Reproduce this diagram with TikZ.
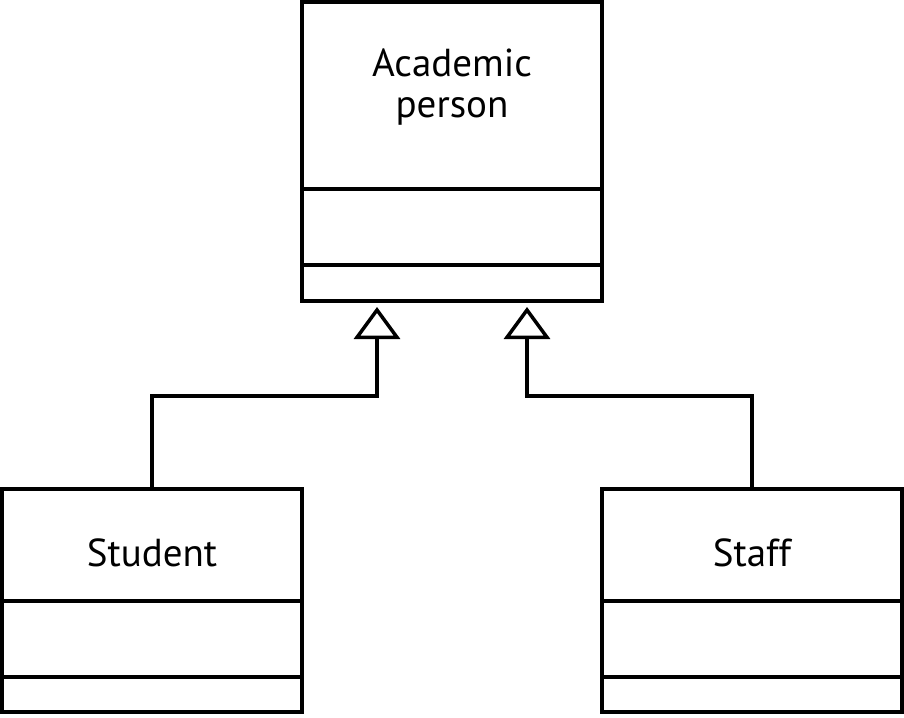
\documentclass[tikz,border=0pt]{standalone}
\usepackage{fontspec}
\setmainfont{PT Sans}
\usetikzlibrary{arrows.meta}
\begin{document}
\begin{tikzpicture}[x=1pt,y=-1pt,line width=3.5pt,
  classbox/.style={draw,rectangle,minimum width=300pt,minimum height=#1,inner sep=0pt,outer sep=0pt,anchor=north west},
  divider/.style={line width=3.5pt},
  lbl/.style={font=\fontsize{39}{41}\selectfont,align=center,inner sep=0pt},
  inherit/.style={line width=3.5pt,-{Triangle[open,length=32pt,width=46pt]}}]
\useasboundingbox (0,0) rectangle (904,717);
% classes
\node[classbox=299pt] (acad) at (302,2) {};
\node[classbox=223pt] (stud) at (2,489) {};
\node[classbox=223pt] (staff) at (602,489) {};
% dividers
\draw[divider] ([yshift=-187pt]acad.north west) -- ([yshift=-187pt]acad.north east);
\draw[divider] ([yshift=-263pt]acad.north west) -- ([yshift=-263pt]acad.north east);
\draw[divider] ([yshift=-112pt]stud.north west) -- ([yshift=-112pt]stud.north east);
\draw[divider] ([yshift=-188pt]stud.north west) -- ([yshift=-188pt]stud.north east);
\draw[divider] ([yshift=-112pt]staff.north west) -- ([yshift=-112pt]staff.north east);
\draw[divider] ([yshift=-188pt]staff.north west) -- ([yshift=-188pt]staff.north east);
% labels
\node[lbl] (acadl) at (452,87) {Academic\\person};
\node[lbl] (studl) at (152,553) {Student};
\node[lbl] (staffl) at (752,553) {Staff};
% arrow tips
\coordinate (tipL) at (377,307);
\coordinate (tipR) at (527,307);
\draw[inherit] (stud.north) -- ++(0,-93) -| (tipL);
\draw[inherit] (staff.north) -- ++(0,-93) -| (tipR);
\end{tikzpicture}
\end{document}
